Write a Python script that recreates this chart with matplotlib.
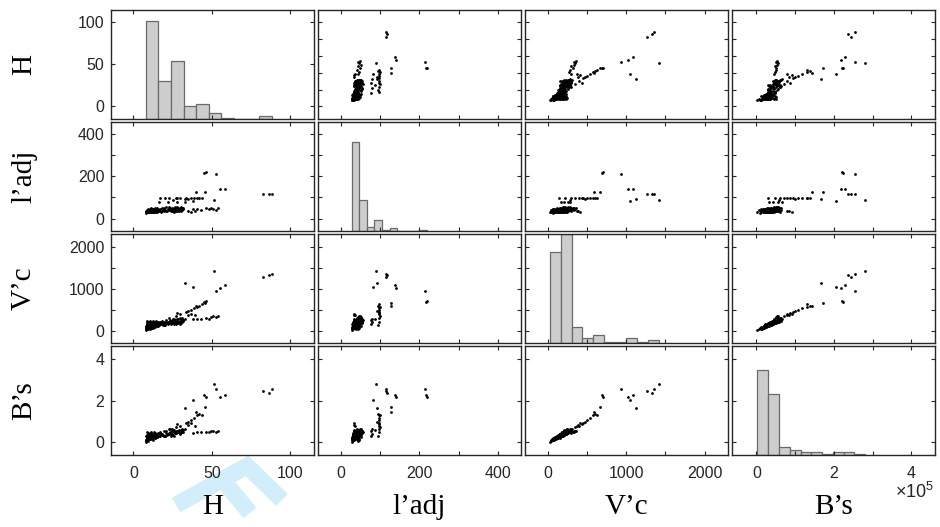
import numpy as np
import matplotlib.pyplot as plt
from matplotlib.ticker import FixedLocator, FuncFormatter
from matplotlib.lines import Line2D

plt.rcParams['mathtext.fontset'] = 'custom'
plt.rcParams['mathtext.rm'] = 'Liberation Sans'

labels = ["H", "l\u2019adj", "V\u2019c", "B\u2019s"]

# samples as (H, l'adj, V'c, B's [x1e5])
cluster_low = [
    (7.8, 29, 22, 0.03), (8.0, 31, 45, 0.12), (8.1, 34, 80, 0.13), (8.3, 30, 120, 0.31),
    (8.4, 38, 160, 0.28), (8.6, 33, 200, 0.36), (8.7, 36, 230, 0.52), (8.9, 29, 60, 0.16),
    (9.1, 41, 100, 0.17), (9.2, 32, 140, 0.36), (9.4, 35, 180, 0.30), (9.6, 44, 70, 0.19),
    (9.7, 30, 110, 0.20), (9.9, 37, 150, 0.38), (10.1, 33, 190, 0.33), (10.3, 40, 50, 0.14),
    (10.4, 46, 90, 0.16), (10.6, 31, 130, 0.33), (10.8, 36, 170, 0.29), (11.0, 42, 215, 0.52),
    (11.2, 34, 75, 0.20), (11.4, 39, 115, 0.21), (11.5, 48, 155, 0.39), (11.7, 32, 195, 0.34),
    (11.9, 37, 65, 0.17), (12.1, 43, 105, 0.19), (12.3, 35, 145, 0.37), (12.5, 30, 185, 0.32),
    (12.7, 45, 125, 0.32), (12.9, 38, 165, 0.29), (13.2, 33, 95, 0.25), (13.5, 41, 135, 0.24),
    (13.8, 50, 175, 0.44), (14.0, 36, 115, 0.21), (14.3, 44, 155, 0.40), (14.6, 31, 200, 0.36),
    (14.9, 39, 140, 0.37), (15.2, 47, 180, 0.33), (15.5, 34, 120, 0.31), (15.8, 42, 165, 0.30),
]
cluster_mid = [
    (16.3, 37, 130, 0.34), (16.9, 45, 170, 0.31), (17.4, 33, 150, 0.39), (18.0, 52, 190, 0.36),
    (18.6, 40, 140, 0.37), (19.2, 36, 175, 0.33), (19.8, 48, 205, 0.53), (20.4, 42, 160, 0.30),
    (21.0, 55, 220, 0.57), (21.6, 38, 185, 0.35), (22.2, 46, 150, 0.39), (22.8, 41, 210, 0.40),
    (23.3, 50, 240, 0.62), (23.7, 35, 175, 0.33),
]
cluster_high = [
    (24.1, 39, 160, 0.42), (24.4, 45, 200, 0.38), (24.8, 52, 240, 0.63), (25.1, 36, 180, 0.35),
    (25.5, 43, 220, 0.57), (25.9, 49, 150, 0.30), (26.2, 41, 195, 0.51), (26.6, 57, 260, 0.50),
    (27.0, 38, 170, 0.44), (27.3, 46, 230, 0.45), (27.7, 53, 205, 0.54), (28.0, 40, 250, 0.49),
    (28.4, 44, 185, 0.48), (28.7, 50, 270, 0.53), (29.1, 37, 215, 0.56), (29.4, 47, 240, 0.47),
    (29.8, 42, 160, 0.42), (30.1, 55, 280, 0.55), (30.5, 39, 225, 0.59), (30.9, 48, 250, 0.49),
    (31.3, 44, 200, 0.52), (31.6, 51, 265, 0.52),
]
cluster_extra = [
    (8.2, 28, 70, 0.10), (8.5, 40, 105, 0.25), (8.8, 35, 150, 0.22), (9.0, 31, 190, 0.45),
    (9.3, 43, 35, 0.07), (9.8, 34, 210, 0.40), (10.0, 29, 85, 0.22), (10.5, 38, 240, 0.47),
    (10.9, 44, 130, 0.23), (11.3, 30, 160, 0.40), (11.8, 40, 95, 0.24), (12.2, 33, 225, 0.41),
    (12.6, 47, 60, 0.12), (13.0, 36, 205, 0.49), (13.4, 29, 150, 0.27), (13.9, 42, 90, 0.22),
    (14.4, 38, 230, 0.42), (14.8, 52, 110, 0.27), (15.3, 30, 145, 0.26), (15.7, 45, 205, 0.47),
    (17.0, 40, 200, 0.47), (18.3, 34, 230, 0.42), (19.5, 44, 130, 0.32), (20.8, 36, 250, 0.46),
    (22.5, 53, 190, 0.45), (23.5, 44, 265, 0.50), (24.6, 35, 230, 0.53), (25.7, 41, 275, 0.51),
    (26.8, 50, 185, 0.46), (27.9, 35, 290, 0.55), (28.9, 43, 210, 0.58), (29.6, 52, 300, 0.57),
    (30.3, 36, 185, 0.48), (31.0, 41, 305, 0.64), (31.8, 47, 235, 0.61), (26.0, 33, 245, 0.60),
]
band_78 = [
    (16.5, 78, 165, 0.32), (22.0, 79, 210, 0.42), (27.5, 78, 250, 0.55), (33.0, 80, 275, 0.66),
]
band_98 = [
    (17.0, 97, 220, 0.48), (20.0, 96, 135, 0.30), (23.0, 98, 300, 0.62), (25.0, 88, 280, 0.58),
    (27.0, 99, 350, 0.72), (27.8, 97, 430, 0.86), (30.0, 98, 400, 0.80), (33.5, 98, 450, 0.95),
    (35.0, 92, 470, 1.00), (36.5, 97, 500, 1.08), (38.5, 98, 540, 1.18), (40.6, 99, 575, 1.30),
    (41.6, 96, 600, 1.38), (43.5, 98, 630, 1.30),
]
lower_branch = [
    (38.1, 44, 290, 0.46), (40.5, 47, 270, 0.48), (43.4, 41, 276, 0.50), (46.0, 49, 315, 0.52),
    (48.0, 45, 290, 0.49), (49.5, 52, 330, 0.53), (51.0, 46, 345, 0.55), (52.5, 43, 330, 0.50),
    (53.8, 48, 355, 0.54), (35.0, 35, 385, 0.85), (37.0, 33, 410, 0.92), (39.0, 36, 370, 0.80),
]
outliers = [
    (51.2, 90, 1415, 2.81), (32.7, 93, 1130, 1.67), (38.0, 82, 1043, 2.05),
    (52.6, 213, 938, 2.56), (55.0, 140, 1025, 2.19), (58.2, 139, 1080, 2.29),
    (82.5, 116, 1268, 2.45), (86.3, 117, 1330, 2.37), (88.3, 116, 1360, 2.56),
    (45.2, 217, 690, 2.25), (46.0, 220, 700, 2.20), (39.6, 128, 588, 1.45),
    (45.5, 128, 668, 1.72),
]

# diagonal histograms: counts in 10 bins between min and max of each variable
hist_h = [128, 49, 76, 17, 19, 8, 1, 0, 0, 3]
hist_ladj = [192, 66, 8, 23, 2, 6, 0, 0, 0, 2]
hist_vc = [114, 137, 20, 6, 10, 1, 1, 6, 2, 4]
hist_bs = [147, 106, 15, 9, 6, 5, 2, 5, 5, 3]
hist_top = [143, 237, 137, 188]

rows = (cluster_low + cluster_mid + cluster_high + cluster_extra
        + band_78 + band_98 + lower_branch + outliers)
data = np.array(rows, dtype=float).T
hists = [hist_h, hist_ladj, hist_vc, hist_bs]

lims = [(-14.5, 115), (-58, 458), (-292, 2300), (-0.62, 4.62)]
xticks = [[0, 50, 100], [0, 100, 200, 300, 400], [0, 500, 1000, 1500, 2000], [0, 1, 2, 3, 4]]
yticks = [[0, 20, 40, 60, 80, 100], [0, 100, 200, 300, 400], [0, 500, 1000, 1500, 2000], [0, 2, 4]]
shown = [[0, 50, 100], [0, 200, 400], [0, 1000, 2000], [0, 2, 4]]

W, H = 940, 527
dark = '#262626'
sans = 'Liberation Sans'
serif = 'Liberation Serif'
AX_W, AX_H = 203.0, 109.2

def rect(col, row):
    left = 110.7 + col * 207.2
    top = 9.5 + row * 112.2
    return [left / W, 1 - (top + AX_H) / H, AX_W / W, AX_H / H]

def fmt_for(var):
    keep = shown[var]
    return FuncFormatter(lambda v, p: f"{v:g}" if any(abs(v - k) < 1e-9 for k in keep) else "")

fig = plt.figure(figsize=(9.4, 5.27), dpi=100)

# light blue watermark behind everything
wm = '#d3eefb'
fig.add_artist(Line2D([176 / W, 247 / W, 282 / W], [1 - 505 / H, 1 - 466 / H, 1 - 500 / H],
                      color=wm, lw=12, solid_joinstyle='miter', solid_capstyle='butt', zorder=0))
fig.add_artist(Line2D([222 / W, 250 / W], [1 - 479 / H, 1 - 513 / H],
                      color=wm, lw=12, solid_capstyle='butt', zorder=0))

for r in range(4):
    for c in range(4):
        if r == c:
            hax = fig.add_axes(rect(c, r), label=f"hist{r}")
            edges = np.linspace(data[c].min(), data[c].max(), 11)
            hax.bar(edges[:-1], hists[c], width=np.diff(edges), align='edge',
                    color='#cdcdcd', edgecolor='#6a6a6a', linewidth=0.9)
            hax.set_xlim(lims[c])
            hax.set_ylim(0, hist_top[c])
            hax.axis('off')
        ax = fig.add_axes(rect(c, r), label=f"ax{r}{c}")
        ax.set_facecolor('none')
        if r != c:
            ax.plot(data[c], data[r], '.', color='k', ms=4, mew=0)
        ax.set_xlim(lims[c])
        ax.set_ylim(lims[r])
        ax.xaxis.set_major_locator(FixedLocator(xticks[c]))
        yt = [0, 50, 100] if (r == 0 and c == 0) else yticks[r]
        ax.yaxis.set_major_locator(FixedLocator(yt))
        ax.xaxis.set_major_formatter(fmt_for(c))
        ax.yaxis.set_major_formatter(fmt_for(r))
        ax.tick_params(direction='in', top=True, right=True, length=3, width=0.8,
                       color=dark, labelcolor=dark, labelsize=11.5,
                       labelbottom=(r == 3), labelleft=(c == 0))
        ax.tick_params(axis='x', pad=8)
        ax.tick_params(axis='y', pad=4.5)
        for lab in ax.get_xticklabels() + ax.get_yticklabels():
            lab.set_fontfamily(sans)
        for s in ax.spines.values():
            s.set_color(dark)
            s.set_linewidth(1.0)

# variable names along the left and bottom
for i, name in enumerate(labels):
    top = 9.5 + i * 112.2
    fig.text(24 / W, 1 - (top + AX_H / 2) / H, name, rotation=90, ha='center', va='center',
             fontsize=21, family=serif, color='k')
    left = 110.7 + i * 207.2
    fig.text((left + AX_W / 2) / W, 1 - 507 / H, name, ha='center', va='center',
             fontsize=21, family=serif, color='k')

fig.text(934 / W, 1 - 498 / H, r'$\mathregular{\times10^{5}}$', ha='right', va='baseline',
         fontsize=13, family=sans, color=dark)

fig.savefig('out.png', dpi=100)
